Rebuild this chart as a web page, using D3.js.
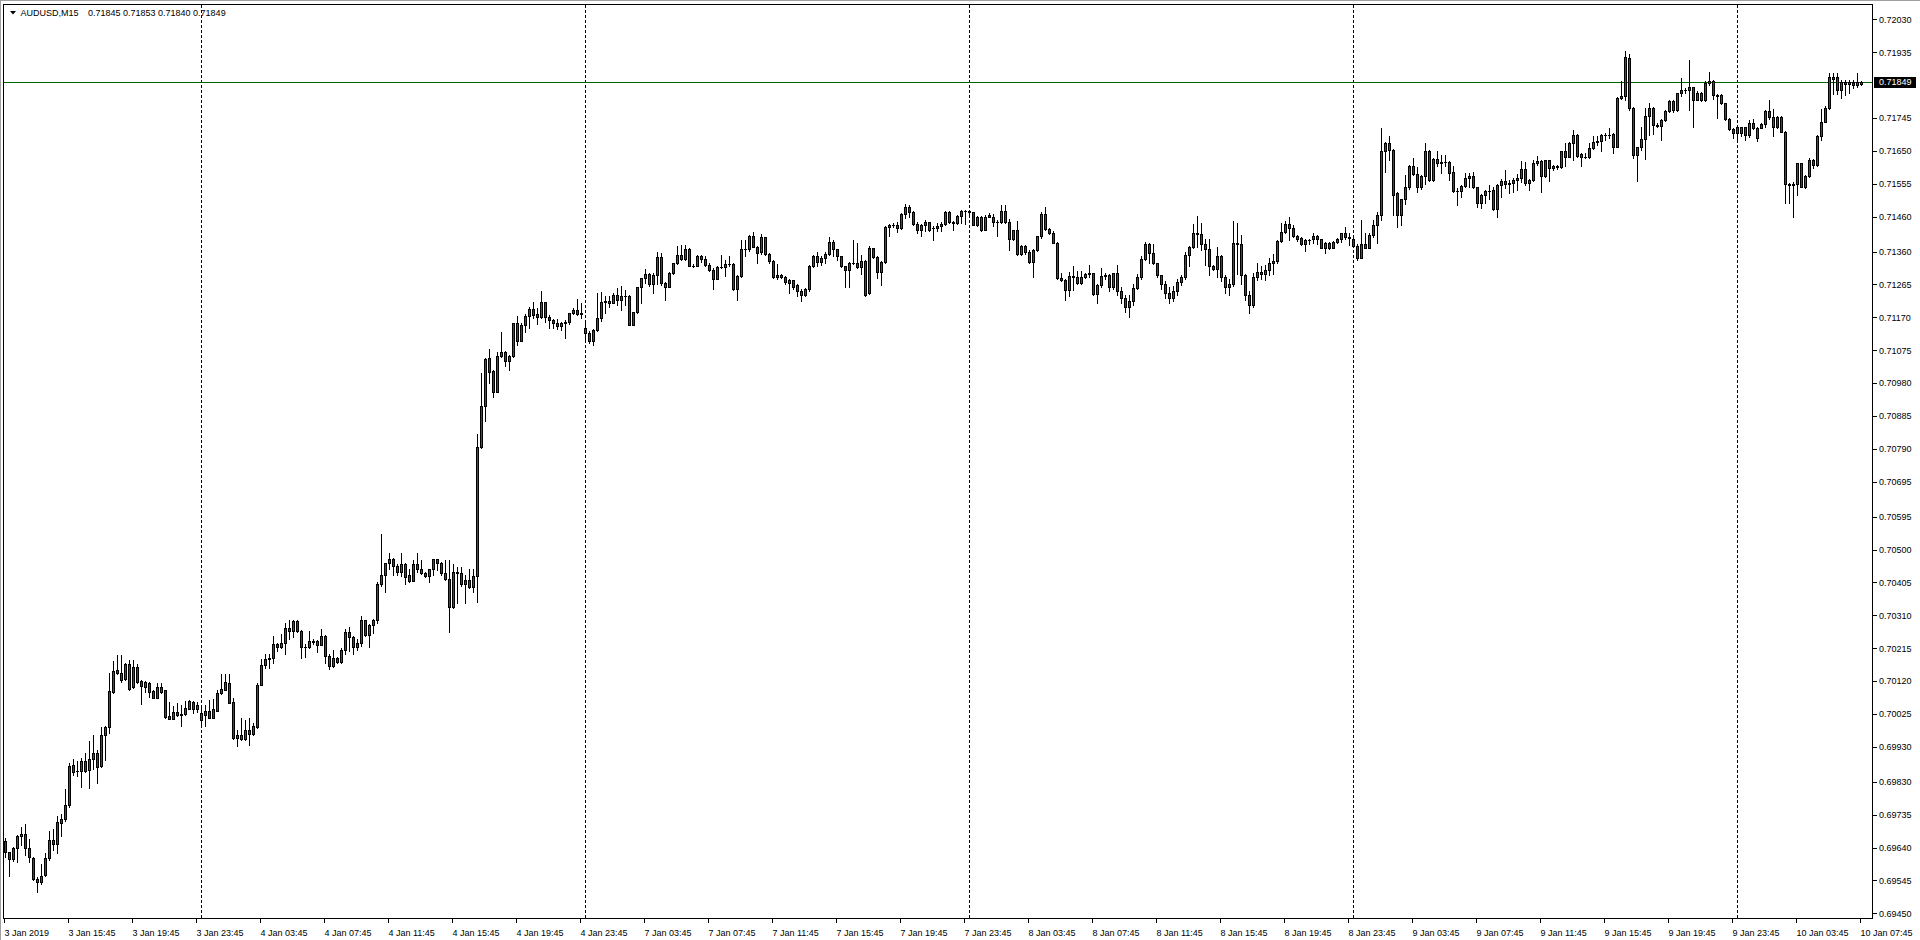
<!DOCTYPE html>
<html>
<head>
<meta charset="utf-8">
<script src="https://cdn.jsdelivr.net/npm/d3@7"></script>
<style>
html,body{margin:0;padding:0;background:#ffffff;overflow:hidden;}
svg{display:block;}
text{font-family:"Liberation Sans",Arial,sans-serif;font-size:9px;fill:#000;}
</style>
</head>
<body>
<svg id="chart" width="1920" height="940"></svg>
<script>
// ---------------- DATA ----------------
const symbolLabel = "AUDUSD,M15";
const lastBarQuote = ["0.71845", "0.71853", "0.71840", "0.71849"];
const currentPrice = 0.71849;
const firstBarTime = new Date(2019, 0, 3, 11, 45); // M15 bars

const open = [
0.69659,0.69626,0.69606,0.69638,0.69674,0.69679,0.69638,0.69611,0.69550,0.69542,
0.69560,0.69609,0.69662,0.69651,0.69712,0.69722,0.69764,0.69877,0.69861,0.69862,
0.69891,0.69864,0.69896,0.69912,0.69874,0.69964,0.69987,0.70089,0.70153,0.70144,
0.70126,0.70169,0.70103,0.70160,0.70120,0.70104,0.70116,0.70092,0.70073,0.70102,
0.70094,0.70020,0.70012,0.70031,0.70022,0.70025,0.70041,0.70060,0.70041,0.70008,
0.70022,0.70035,0.70015,0.70035,0.70085,0.70096,0.70116,0.70061,0.69955,0.69965,
0.69954,0.69980,0.69967,0.69987,0.70110,0.70167,0.70183,0.70186,0.70227,0.70218,
0.70230,0.70275,0.70266,0.70293,0.70266,0.70220,0.70218,0.70233,0.70237,0.70226,
0.70250,0.70194,0.70165,0.70186,0.70176,0.70210,0.70261,0.70248,0.70220,0.70231,
0.70296,0.70252,0.70282,0.70297,0.70401,0.70428,0.70460,0.70474,0.70453,0.70436,
0.70458,0.70426,0.70410,0.70458,0.70445,0.70433,0.70425,0.70443,0.70472,0.70462,
0.70431,0.70416,0.70333,0.70434,0.70432,0.70402,0.70412,0.70391,0.70423,0.70795,
0.70915,0.71052,0.71014,0.70956,0.71059,0.71070,0.71043,0.71059,0.71153,0.71101,
0.71148,0.71174,0.71194,0.71172,0.71172,0.71213,0.71172,0.71163,0.71153,0.71144,
0.71153,0.71156,0.71182,0.71191,0.71180,0.71139,0.71126,0.71103,0.71134,0.71169,
0.71214,0.71218,0.71212,0.71236,0.71219,0.71233,0.71232,0.71148,0.71186,0.71257,
0.71283,0.71296,0.71266,0.71293,0.71344,0.71269,0.71259,0.71298,0.71326,0.71350,
0.71339,0.71368,0.71319,0.71317,0.71348,0.71339,0.71320,0.71307,0.71282,0.71315,
0.71315,0.71325,0.71325,0.71253,0.71290,0.71367,0.71368,0.71405,0.71374,0.71358,
0.71401,0.71353,0.71334,0.71286,0.71293,0.71286,0.71270,0.71277,0.71264,0.71245,
0.71234,0.71253,0.71319,0.71346,0.71331,0.71341,0.71353,0.71387,0.71367,0.71346,
0.71317,0.71307,0.71328,0.71328,0.71315,0.71333,0.71240,0.71371,0.71343,0.71300,
0.71331,0.71431,0.71438,0.71436,0.71428,0.71469,0.71490,0.71475,0.71440,0.71421,
0.71438,0.71444,0.71427,0.71429,0.71433,0.71440,0.71474,0.71444,0.71442,0.71463,
0.71478,0.71477,0.71474,0.71438,0.71461,0.71421,0.71465,0.71461,0.71444,0.71446,
0.71478,0.71444,0.71395,0.71421,0.71353,0.71376,0.71360,0.71331,0.71365,0.71404,
0.71469,0.71425,0.71415,0.71386,0.71283,0.71277,0.71248,0.71290,0.71288,0.71269,
0.71286,0.71296,0.71297,0.71237,0.71264,0.71290,0.71293,0.71258,0.71297,0.71246,
0.71226,0.71200,0.71218,0.71256,0.71286,0.71338,0.71383,0.71355,0.71326,0.71291,
0.71266,0.71241,0.71226,0.71246,0.71271,0.71288,0.71350,0.71374,0.71413,0.71411,
0.71383,0.71366,0.71318,0.71309,0.71347,0.71286,0.71258,0.71266,0.71385,0.71381,
0.71291,0.71236,0.71205,0.71286,0.71302,0.71294,0.71306,0.71326,0.71333,0.71390,
0.71416,0.71439,0.71429,0.71404,0.71400,0.71381,0.71393,0.71395,0.71404,0.71395,
0.71371,0.71385,0.71369,0.71388,0.71396,0.71413,0.71401,0.71395,0.71376,0.71340,
0.71383,0.71371,0.71408,0.71437,0.71466,0.71651,0.71673,0.71653,0.71530,0.71466,
0.71511,0.71546,0.71608,0.71585,0.71546,0.71579,0.71651,0.71567,0.71627,0.71617,
0.71619,0.71618,0.71590,0.71536,0.71534,0.71549,0.71572,0.71578,0.71545,0.71501,
0.71523,0.71536,0.71538,0.71482,0.71552,0.71563,0.71555,0.71558,0.71566,0.71572,
0.71597,0.71557,0.71567,0.71617,0.71620,0.71577,0.71623,0.71601,0.71608,0.71604,
0.71649,0.71634,0.71673,0.71697,0.71642,0.71632,0.71634,0.71658,0.71676,0.71678,
0.71697,0.71695,0.71699,0.71663,0.71803,0.71808,0.71918,0.71774,0.71639,0.71661,
0.71684,0.71751,0.71774,0.71725,0.71723,0.71740,0.71767,0.71795,0.71769,0.71817,
0.71825,0.71826,0.71834,0.71798,0.71819,0.71796,0.71846,0.71851,0.71812,0.71812,
0.71788,0.71744,0.71713,0.71719,0.71701,0.71719,0.71697,0.71732,0.71688,0.71718,
0.71727,0.71766,0.71720,0.71747,0.71747,0.71706,0.71555,0.71552,0.71555,0.71615,
0.71547,0.71577,0.71625,0.71610,0.71694,0.71735,0.71774,0.71859,0.71863,0.71825,
0.71848,0.71845,0.71848,0.71841,0.71845
];

const high = [
0.69669,0.69627,0.69643,0.69676,0.69698,0.69708,0.69664,0.69612,0.69554,0.69594,
0.69624,0.69688,0.69693,0.69731,0.69736,0.69808,0.69883,0.69897,0.69891,0.69899,
0.69914,0.69948,0.69964,0.69921,0.69987,0.69991,0.70144,0.70178,0.70196,0.70195,
0.70172,0.70182,0.70182,0.70169,0.70123,0.70121,0.70119,0.70094,0.70116,0.70116,
0.70096,0.70060,0.70049,0.70058,0.70051,0.70063,0.70066,0.70062,0.70059,0.70047,
0.70050,0.70066,0.70068,0.70095,0.70142,0.70142,0.70142,0.70073,0.69980,0.70013,
0.70008,0.70013,0.69999,0.70114,0.70183,0.70200,0.70200,0.70250,0.70229,0.70256,
0.70287,0.70298,0.70296,0.70296,0.70267,0.70227,0.70265,0.70241,0.70238,0.70272,
0.70252,0.70200,0.70210,0.70191,0.70215,0.70271,0.70277,0.70250,0.70243,0.70308,
0.70298,0.70284,0.70301,0.70407,0.70544,0.70462,0.70491,0.70477,0.70458,0.70489,
0.70462,0.70443,0.70471,0.70491,0.70471,0.70435,0.70445,0.70474,0.70474,0.70465,
0.70471,0.70471,0.70458,0.70450,0.70450,0.70426,0.70443,0.70445,0.70833,0.71010,
0.71052,0.71078,0.71018,0.71069,0.71127,0.71072,0.71061,0.71155,0.71174,0.71155,
0.71179,0.71201,0.71215,0.71196,0.71246,0.71213,0.71176,0.71165,0.71166,0.71158,
0.71163,0.71184,0.71196,0.71223,0.71211,0.71158,0.71132,0.71136,0.71239,0.71244,
0.71233,0.71233,0.71240,0.71255,0.71262,0.71250,0.71234,0.71187,0.71259,0.71285,
0.71310,0.71298,0.71298,0.71358,0.71357,0.71271,0.71300,0.71328,0.71376,0.71379,
0.71379,0.71370,0.71325,0.71350,0.71350,0.71348,0.71326,0.71314,0.71317,0.71350,
0.71336,0.71348,0.71326,0.71293,0.71392,0.71392,0.71408,0.71417,0.71376,0.71411,
0.71403,0.71355,0.71336,0.71325,0.71296,0.71290,0.71281,0.71279,0.71266,0.71253,
0.71255,0.71322,0.71349,0.71360,0.71346,0.71360,0.71403,0.71393,0.71368,0.71348,
0.71319,0.71331,0.71392,0.71384,0.71350,0.71335,0.71376,0.71371,0.71346,0.71333,
0.71433,0.71439,0.71442,0.71444,0.71471,0.71497,0.71495,0.71477,0.71444,0.71439,
0.71452,0.71444,0.71433,0.71442,0.71444,0.71476,0.71476,0.71447,0.71465,0.71481,
0.71481,0.71479,0.71475,0.71463,0.71463,0.71465,0.71471,0.71469,0.71450,0.71495,
0.71495,0.71454,0.71423,0.71447,0.71378,0.71378,0.71364,0.71367,0.71406,0.71473,
0.71490,0.71428,0.71419,0.71389,0.71298,0.71280,0.71300,0.71317,0.71303,0.71303,
0.71298,0.71322,0.71298,0.71266,0.71312,0.71299,0.71294,0.71299,0.71321,0.71258,
0.71236,0.71234,0.71266,0.71296,0.71347,0.71388,0.71385,0.71383,0.71328,0.71293,
0.71276,0.71258,0.71261,0.71281,0.71292,0.71359,0.71376,0.71440,0.71463,0.71443,
0.71395,0.71397,0.71320,0.71374,0.71350,0.71291,0.71281,0.71447,0.71441,0.71407,
0.71294,0.71245,0.71297,0.71326,0.71317,0.71321,0.71340,0.71353,0.71393,0.71442,
0.71447,0.71459,0.71436,0.71407,0.71403,0.71395,0.71396,0.71413,0.71407,0.71395,
0.71387,0.71387,0.71390,0.71398,0.71415,0.71430,0.71415,0.71398,0.71381,0.71451,
0.71415,0.71413,0.71451,0.71473,0.71716,0.71677,0.71694,0.71657,0.71532,0.71513,
0.71582,0.71610,0.71630,0.71603,0.71581,0.71673,0.71653,0.71629,0.71649,0.71639,
0.71639,0.71621,0.71607,0.71542,0.71551,0.71587,0.71588,0.71590,0.71547,0.71525,
0.71538,0.71552,0.71545,0.71554,0.71568,0.71595,0.71567,0.71571,0.71584,0.71620,
0.71619,0.71568,0.71625,0.71636,0.71623,0.71625,0.71625,0.71610,0.71611,0.71651,
0.71673,0.71677,0.71711,0.71698,0.71644,0.71644,0.71673,0.71694,0.71694,0.71699,
0.71701,0.71716,0.71701,0.71805,0.71851,0.71940,0.71930,0.71776,0.71663,0.71719,
0.71773,0.71790,0.71776,0.71730,0.71742,0.71769,0.71798,0.71798,0.71819,0.71860,
0.71832,0.71913,0.71836,0.71822,0.71821,0.71851,0.71879,0.71855,0.71814,0.71814,
0.71788,0.71746,0.71718,0.71720,0.71720,0.71720,0.71740,0.71742,0.71720,0.71730,
0.71769,0.71798,0.71770,0.71750,0.71750,0.71708,0.71559,0.71560,0.71617,0.71616,
0.71581,0.71630,0.71627,0.71696,0.71770,0.71779,0.71875,0.71875,0.71875,0.71855,
0.71855,0.71855,0.71854,0.71875,0.71853
];

const low = [
0.69614,0.69557,0.69600,0.69597,0.69647,0.69619,0.69597,0.69546,0.69511,0.69536,
0.69557,0.69604,0.69633,0.69624,0.69674,0.69718,0.69758,0.69850,0.69847,0.69816,
0.69859,0.69811,0.69868,0.69825,0.69872,0.69892,0.69970,0.70086,0.70140,0.70118,
0.70124,0.70096,0.70101,0.70116,0.70053,0.70090,0.70075,0.70071,0.70071,0.70087,
0.70013,0.70010,0.70010,0.70020,0.69992,0.70023,0.70039,0.70029,0.70032,0.69989,
0.69992,0.70013,0.70013,0.70033,0.70083,0.70094,0.70056,0.69953,0.69934,0.69951,
0.69951,0.69937,0.69964,0.69984,0.70108,0.70157,0.70157,0.70174,0.70208,0.70215,
0.70198,0.70241,0.70248,0.70263,0.70186,0.70191,0.70217,0.70227,0.70205,0.70224,
0.70174,0.70155,0.70162,0.70174,0.70174,0.70199,0.70208,0.70198,0.70210,0.70221,
0.70250,0.70218,0.70260,0.70288,0.70396,0.70378,0.70443,0.70426,0.70426,0.70423,
0.70401,0.70407,0.70409,0.70436,0.70429,0.70420,0.70407,0.70426,0.70441,0.70426,
0.70412,0.70261,0.70331,0.70347,0.70396,0.70345,0.70388,0.70378,0.70350,0.70792,
0.70870,0.70981,0.70941,0.70956,0.71056,0.71029,0.71019,0.71056,0.71091,0.71101,
0.71129,0.71139,0.71168,0.71150,0.71168,0.71158,0.71139,0.71139,0.71137,0.71134,
0.71110,0.71151,0.71179,0.71177,0.71168,0.71101,0.71096,0.71091,0.71132,0.71161,
0.71183,0.71200,0.71212,0.71207,0.71191,0.71207,0.71147,0.71147,0.71183,0.71212,
0.71269,0.71261,0.71240,0.71267,0.71264,0.71219,0.71259,0.71296,0.71325,0.71336,
0.71336,0.71317,0.71315,0.71317,0.71331,0.71317,0.71305,0.71253,0.71281,0.71313,
0.71290,0.71317,0.71250,0.71219,0.71286,0.71348,0.71362,0.71372,0.71328,0.71354,
0.71351,0.71328,0.71284,0.71282,0.71283,0.71267,0.71240,0.71252,0.71231,0.71216,
0.71233,0.71247,0.71315,0.71319,0.71322,0.71328,0.71350,0.71348,0.71336,0.71315,
0.71259,0.71259,0.71325,0.71313,0.71296,0.71233,0.71238,0.71341,0.71283,0.71264,
0.71326,0.71404,0.71431,0.71416,0.71425,0.71457,0.71461,0.71438,0.71414,0.71404,
0.71418,0.71418,0.71394,0.71418,0.71418,0.71438,0.71442,0.71421,0.71440,0.71442,
0.71440,0.71466,0.71436,0.71433,0.71419,0.71421,0.71461,0.71435,0.71404,0.71442,
0.71442,0.71365,0.71394,0.71350,0.71350,0.71353,0.71328,0.71286,0.71361,0.71399,
0.71423,0.71412,0.71384,0.71281,0.71275,0.71221,0.71231,0.71248,0.71267,0.71267,
0.71283,0.71288,0.71236,0.71212,0.71258,0.71282,0.71246,0.71251,0.71236,0.71211,
0.71185,0.71170,0.71206,0.71251,0.71281,0.71336,0.71326,0.71324,0.71286,0.71251,
0.71226,0.71211,0.71216,0.71236,0.71264,0.71281,0.71317,0.71370,0.71373,0.71364,
0.71321,0.71293,0.71307,0.71288,0.71276,0.71241,0.71236,0.71261,0.71296,0.71266,
0.71221,0.71183,0.71200,0.71279,0.71281,0.71278,0.71291,0.71296,0.71326,0.71389,
0.71415,0.71394,0.71402,0.71391,0.71379,0.71362,0.71382,0.71384,0.71383,0.71369,
0.71355,0.71366,0.71369,0.71384,0.71389,0.71396,0.71380,0.71374,0.71336,0.71340,
0.71369,0.71369,0.71402,0.71386,0.71450,0.71591,0.71625,0.71466,0.71432,0.71437,
0.71497,0.71541,0.71582,0.71533,0.71541,0.71556,0.71565,0.71565,0.71608,0.71586,
0.71608,0.71567,0.71533,0.71495,0.71517,0.71545,0.71546,0.71542,0.71490,0.71485,
0.71499,0.71512,0.71480,0.71459,0.71518,0.71542,0.71528,0.71533,0.71538,0.71560,
0.71552,0.71538,0.71565,0.71610,0.71531,0.71575,0.71563,0.71596,0.71598,0.71601,
0.71606,0.71632,0.71623,0.71634,0.71606,0.71630,0.71630,0.71655,0.71668,0.71649,
0.71682,0.71687,0.71644,0.71661,0.71801,0.71798,0.71768,0.71630,0.71564,0.71653,
0.71627,0.71697,0.71699,0.71719,0.71682,0.71736,0.71762,0.71762,0.71767,0.71808,
0.71817,0.71768,0.71720,0.71798,0.71794,0.71794,0.71841,0.71800,0.71745,0.71787,
0.71740,0.71711,0.71687,0.71682,0.71694,0.71682,0.71692,0.71713,0.71680,0.71716,
0.71720,0.71744,0.71694,0.71718,0.71704,0.71499,0.71501,0.71459,0.71523,0.71545,
0.71543,0.71575,0.71601,0.71608,0.71682,0.71733,0.71771,0.71815,0.71815,0.71803,
0.71812,0.71817,0.71832,0.71834,0.71840
];

const close = [
0.69626,0.69606,0.69638,0.69674,0.69679,0.69638,0.69612,0.69548,0.69542,0.69559,
0.69609,0.69661,0.69651,0.69715,0.69722,0.69763,0.69875,0.69859,0.69861,0.69890,
0.69862,0.69897,0.69912,0.69873,0.69964,0.69987,0.70092,0.70150,0.70143,0.70123,
0.70170,0.70098,0.70161,0.70118,0.70107,0.70118,0.70090,0.70072,0.70102,0.70089,
0.70018,0.70012,0.70031,0.70023,0.70026,0.70042,0.70063,0.70039,0.70051,0.70028,
0.70033,0.70015,0.70039,0.70087,0.70098,0.70117,0.70058,0.69955,0.69964,0.69954,
0.69980,0.69967,0.69991,0.70109,0.70167,0.70183,0.70186,0.70227,0.70220,0.70230,
0.70275,0.70266,0.70293,0.70266,0.70220,0.70218,0.70235,0.70237,0.70226,0.70250,
0.70194,0.70165,0.70186,0.70176,0.70210,0.70261,0.70248,0.70220,0.70231,0.70296,
0.70252,0.70282,0.70296,0.70401,0.70428,0.70460,0.70474,0.70453,0.70436,0.70458,
0.70422,0.70410,0.70458,0.70445,0.70431,0.70425,0.70443,0.70472,0.70462,0.70431,
0.70416,0.70333,0.70434,0.70432,0.70402,0.70412,0.70391,0.70423,0.70795,0.70915,
0.71049,0.71013,0.70956,0.71059,0.71070,0.71043,0.71059,0.71153,0.71101,0.71148,
0.71174,0.71194,0.71177,0.71180,0.71213,0.71172,0.71163,0.71153,0.71144,0.71153,
0.71156,0.71182,0.71191,0.71180,0.71182,0.71126,0.71103,0.71134,0.71169,0.71213,
0.71218,0.71212,0.71236,0.71219,0.71233,0.71231,0.71148,0.71185,0.71257,0.71283,
0.71296,0.71266,0.71293,0.71344,0.71269,0.71259,0.71298,0.71326,0.71350,0.71339,
0.71368,0.71319,0.71317,0.71348,0.71339,0.71320,0.71307,0.71282,0.71315,0.71315,
0.71325,0.71323,0.71253,0.71290,0.71367,0.71368,0.71406,0.71374,0.71357,0.71402,
0.71353,0.71334,0.71286,0.71293,0.71286,0.71272,0.71277,0.71259,0.71245,0.71234,
0.71253,0.71319,0.71346,0.71331,0.71341,0.71353,0.71387,0.71367,0.71346,0.71317,
0.71307,0.71328,0.71328,0.71315,0.71333,0.71236,0.71371,0.71343,0.71300,0.71331,
0.71431,0.71438,0.71436,0.71428,0.71469,0.71490,0.71475,0.71440,0.71421,0.71438,
0.71444,0.71421,0.71429,0.71433,0.71440,0.71474,0.71444,0.71442,0.71463,0.71478,
0.71477,0.71474,0.71438,0.71461,0.71421,0.71461,0.71461,0.71444,0.71446,0.71478,
0.71444,0.71395,0.71421,0.71353,0.71376,0.71360,0.71331,0.71365,0.71404,0.71469,
0.71425,0.71415,0.71386,0.71283,0.71277,0.71248,0.71290,0.71288,0.71269,0.71286,
0.71296,0.71297,0.71237,0.71264,0.71290,0.71293,0.71258,0.71297,0.71246,0.71226,
0.71200,0.71218,0.71256,0.71286,0.71338,0.71383,0.71355,0.71326,0.71291,0.71266,
0.71241,0.71226,0.71246,0.71271,0.71288,0.71350,0.71374,0.71413,0.71411,0.71383,
0.71366,0.71318,0.71309,0.71347,0.71286,0.71258,0.71266,0.71385,0.71383,0.71291,
0.71236,0.71205,0.71286,0.71302,0.71294,0.71306,0.71326,0.71333,0.71390,0.71416,
0.71439,0.71429,0.71404,0.71395,0.71381,0.71393,0.71394,0.71404,0.71395,0.71371,
0.71385,0.71369,0.71388,0.71395,0.71413,0.71401,0.71398,0.71376,0.71340,0.71383,
0.71371,0.71408,0.71437,0.71466,0.71651,0.71673,0.71653,0.71523,0.71466,0.71511,
0.71545,0.71608,0.71585,0.71545,0.71579,0.71651,0.71567,0.71627,0.71617,0.71619,
0.71618,0.71588,0.71536,0.71534,0.71549,0.71571,0.71579,0.71545,0.71501,0.71523,
0.71536,0.71535,0.71482,0.71552,0.71563,0.71555,0.71558,0.71566,0.71571,0.71598,
0.71557,0.71566,0.71617,0.71620,0.71577,0.71623,0.71601,0.71608,0.71604,0.71649,
0.71634,0.71674,0.71697,0.71636,0.71632,0.71634,0.71658,0.71676,0.71678,0.71697,
0.71695,0.71697,0.71663,0.71803,0.71808,0.71921,0.71774,0.71639,0.71661,0.71684,
0.71751,0.71774,0.71725,0.71723,0.71740,0.71767,0.71795,0.71769,0.71817,0.71825,
0.71826,0.71834,0.71798,0.71817,0.71796,0.71846,0.71851,0.71812,0.71810,0.71788,
0.71742,0.71713,0.71703,0.71701,0.71719,0.71697,0.71732,0.71716,0.71718,0.71727,
0.71766,0.71747,0.71747,0.71720,0.71706,0.71555,0.71552,0.71555,0.71615,0.71547,
0.71577,0.71625,0.71610,0.71694,0.71735,0.71774,0.71863,0.71863,0.71825,0.71848,
0.71845,0.71848,0.71841,0.71848,0.71849
];

const yTickLabels = ["0.72030","0.71935","0.71745","0.71650","0.71555","0.71460","0.71360",
  "0.71265","0.71170","0.71075","0.70980","0.70885","0.70790","0.70695","0.70595","0.70500",
  "0.70405","0.70310","0.70215","0.70120","0.70025","0.69930","0.69830","0.69735","0.69640",
  "0.69545","0.69450"];

const xTickLabels = ["3 Jan 2019","3 Jan 15:45","3 Jan 19:45","3 Jan 23:45","4 Jan 03:45",
  "4 Jan 07:45","4 Jan 11:45","4 Jan 15:45","4 Jan 19:45","4 Jan 23:45","7 Jan 03:45",
  "7 Jan 07:45","7 Jan 11:45","7 Jan 15:45","7 Jan 19:45","7 Jan 23:45","8 Jan 03:45",
  "8 Jan 07:45","8 Jan 11:45","8 Jan 15:45","8 Jan 19:45","8 Jan 23:45","9 Jan 03:45",
  "9 Jan 07:45","9 Jan 11:45","9 Jan 15:45","9 Jan 19:45","9 Jan 23:45","10 Jan 03:45",
  "10 Jan 07:45"];
const barsPerXTick = 16;

// ---------------- LAYOUT ----------------
const W = 1920, H = 940;
const frame = {left: 3.5, top: 4.5, right: 1872.5, bottom: 918.5};
const n = close.length;
const barStep = 4;

const x = d3.scaleLinear().domain([0, n - 1]).range([5.5, 5.5 + barStep * (n - 1)]);
const y = d3.scaleLinear().domain([0.69450, 0.72030]).range([913.4, 19.4]);

// bar times (weekend skipped) -> day separators
const times = [];
let t = firstBarTime;
while (times.length < n) {
  const dow = t.getDay();
  if (dow !== 0 && dow !== 6) times.push(t);
  t = d3.timeMinute.offset(t, 15);
}
const separators = d3.range(n).filter(i => times[i].getHours() === 0 && times[i].getMinutes() === 0);

const svg = d3.select("#chart");
svg.append("rect").attr("width", W).attr("height", H).attr("fill", "#ffffff");

// window edge
svg.append("line").attr("x1", 0).attr("x2", W).attr("y1", 0.5).attr("y2", 0.5)
  .attr("stroke", "#a0a0a0").attr("shape-rendering", "crispEdges");
svg.append("line").attr("x1", 0.5).attr("x2", 0.5).attr("y1", 0).attr("y2", H)
  .attr("stroke", "#a0a0a0").attr("shape-rendering", "crispEdges");

// period separators
svg.append("g").selectAll("line").data(separators).join("line")
  .attr("x1", i => x(i)).attr("x2", i => x(i))
  .attr("y1", frame.top + 0.5).attr("y2", frame.bottom)
  .attr("stroke", "#000").attr("stroke-width", 1)
  .attr("stroke-dasharray", "3,2").attr("shape-rendering", "crispEdges");

// current price line
const yCur = Math.round(y(currentPrice)) + 0.5;
svg.append("line").attr("x1", frame.left).attr("x2", frame.right)
  .attr("y1", yCur).attr("y2", yCur)
  .attr("stroke", "#006400").attr("stroke-width", 1).attr("shape-rendering", "crispEdges");

// candles
const idx = d3.range(n);
const gC = svg.append("g").attr("shape-rendering", "crispEdges");
gC.selectAll("line.wick").data(idx).join("line").attr("class", "wick")
  .attr("x1", i => x(i)).attr("x2", i => x(i))
  .attr("y1", i => Math.round(y(high[i])))
  .attr("y2", i => Math.round(y(low[i])) + 1)
  .attr("stroke", "#000").attr("stroke-width", 1);

const bodyTop = i => Math.round(y(Math.max(open[i], close[i])));
const bodyBot = i => Math.round(y(Math.min(open[i], close[i])));
const flat = idx.filter(i => bodyBot(i) - bodyTop(i) < 1);
const full = idx.filter(i => bodyBot(i) - bodyTop(i) >= 1);

gC.selectAll("rect.body").data(full).join("rect").attr("class", "body")
  .attr("x", i => x(i) - 1).attr("width", 2)
  .attr("y", i => bodyTop(i) + 0.5).attr("height", i => bodyBot(i) - bodyTop(i))
  .attr("fill", i => close[i] > open[i] ? "#008000" : "#e00000")
  .attr("stroke", "#000").attr("stroke-width", 1);

gC.selectAll("line.doji").data(flat).join("line").attr("class", "doji")
  .attr("x1", i => x(i) - 1.5).attr("x2", i => x(i) + 1.5)
  .attr("y1", i => bodyTop(i) + 0.5).attr("y2", i => bodyTop(i) + 0.5)
  .attr("stroke", "#000").attr("stroke-width", 1);

// frame
svg.append("rect").attr("x", frame.left).attr("y", frame.top)
  .attr("width", frame.right - frame.left).attr("height", frame.bottom - frame.top)
  .attr("fill", "none").attr("stroke", "#000").attr("stroke-width", 1)
  .attr("shape-rendering", "crispEdges");

// y axis ticks + labels
const gY = svg.append("g");
gY.selectAll("line").data(yTickLabels).join("line")
  .attr("x1", frame.right).attr("x2", frame.right + 4)
  .attr("y1", d => Math.round(y(+d)) + 0.5).attr("y2", d => Math.round(y(+d)) + 0.5)
  .attr("stroke", "#000").attr("shape-rendering", "crispEdges");
gY.selectAll("text").data(yTickLabels).join("text")
  .attr("x", 1879).attr("y", d => y(+d) + 3.2).text(d => d);

// current price tag
svg.append("rect").attr("x", 1874).attr("y", Math.round(y(currentPrice)) - 5)
  .attr("width", 42).attr("height", 11).attr("fill", "#000");
svg.append("text").attr("x", 1879).attr("y", y(currentPrice) + 3.2)
  .style("fill", "#ffffff").text(d3.format(".5f")(currentPrice));

// x axis ticks + labels
const xTickBars = xTickLabels.map((d, k) => k * barsPerXTick);
const gX = svg.append("g");
gX.selectAll("line").data(xTickBars).join("line")
  .attr("x1", i => x(i) - 1).attr("x2", i => x(i) - 1)
  .attr("y1", frame.bottom).attr("y2", frame.bottom + 4)
  .attr("stroke", "#000").attr("shape-rendering", "crispEdges");
gX.selectAll("text").data(xTickLabels).join("text")
  .attr("x", (d, k) => x(xTickBars[k]) - 1).attr("y", 936).text(d => d);

// title
svg.append("path").attr("d", "M10,11 L16,11 L13,14.5 Z").attr("fill", "#000");
svg.append("text").attr("x", 20.5).attr("y", 16).text(symbolLabel);
svg.append("text").attr("x", 88).attr("y", 16).text(lastBarQuote.join(" "));
</script>
</body>
</html>
